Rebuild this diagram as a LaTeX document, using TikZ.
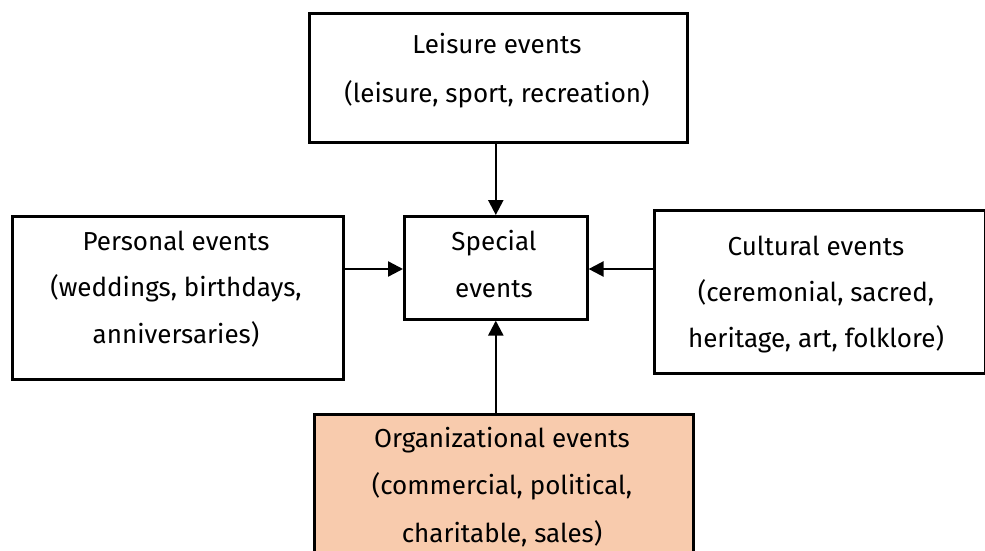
\documentclass[tikz,border=0pt]{standalone}
\usepackage{fontspec}
\setmainfont{Fira Sans}
\usetikzlibrary{arrows.meta}
\definecolor{peach}{HTML}{F8CBAD}
\begin{document}
\begin{tikzpicture}[x=1pt,y=-1pt,
  box/.style={draw=black, line width=2.6pt, fill=white, inner sep=0pt, anchor=north west},
  label text/.style={anchor=base, inner sep=0pt, font=\fontsize{26}{#1}\selectfont},
  label text/.default=47,
  link/.style={line width=2.4pt, -{Triangle[length=15pt,width=15pt]}}]
\useasboundingbox (0,0) rectangle (985,551);

% boxes (top-left corner, size)
\node[box, minimum width=378pt, minimum height=129pt] (leisure) at (308,12) {};
\node[box, minimum width=183pt, minimum height=103pt] (special) at (403,215) {};
\node[box, minimum width=331pt, minimum height=163pt] (personal) at (11,215) {};
\node[box, minimum width=331pt, minimum height=163pt] (cultural) at (653,209) {};
\node[box, fill=peach, minimum width=379pt, minimum height=160pt] (org) at (313,413) {};

% texts, anchored at the baseline of their first line
\node[label text=49] (leisuretext) at (497,53)
  {\begin{tabular}[t]{@{}c@{}}Leisure events\\(leisure, sport, recreation)\end{tabular}};
\node[label text] (specialtext) at (494,250)
  {\begin{tabular}[t]{@{}c@{}}Special\\events\end{tabular}};
\node[label text=46.5] (personaltext) at (176,250)
  {\begin{tabular}[t]{@{}c@{}}Personal events\\(weddings, birthdays,\\anniversaries)\end{tabular}};
\node[label text=46] (culturaltext) at (816,255)
  {\begin{tabular}[t]{@{}c@{}}Cultural events\\(ceremonial, sacred,\\heritage, art, folklore)\end{tabular}};
\node[label text=47.5] (orgtext) at (502,447)
  {\begin{tabular}[t]{@{}c@{}}Organizational events\\(commercial, political,\\charitable, sales)\end{tabular}};

% connectors into the central box
\coordinate (pin) at (special.west |- 0,269);
\coordinate (cin) at (special.east |- 0,269);
\draw[link] (leisure.south -| special.north) -- (special.north);
\draw[link] (personal.east |- pin) -- (pin);
\draw[link] (cultural.west |- cin) -- (cin);
\draw[link] (org.north -| special.south) -- (special.south);
\end{tikzpicture}
\end{document}
